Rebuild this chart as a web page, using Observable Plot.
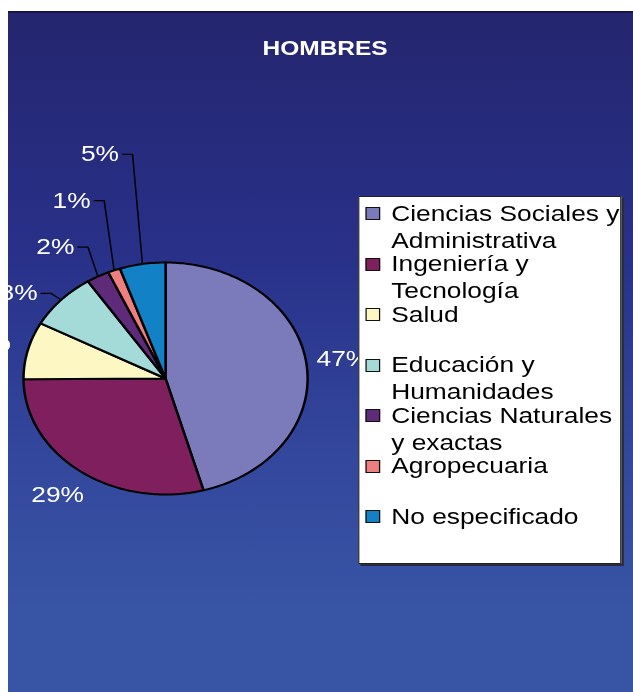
<!DOCTYPE html>
<html>
<head>
<meta charset="utf-8">
<script src="https://cdn.jsdelivr.net/npm/d3@7"></script>
<script src="https://cdn.jsdelivr.net/npm/@observablehq/plot@0.6"></script>
<style>
  html, body { margin: 0; padding: 0; background: #ffffff; }
  body { width: 633px; height: 692px; overflow: hidden; position: relative;
         font-family: "Liberation Sans", Arial, sans-serif; }
  #frame { position: absolute; left: 8px; top: 11px; width: 625px; height: 681px; overflow: hidden;
           background: linear-gradient(to bottom, #24256e 0%, #283088 35%, #33479c 65%, #3854a4 88%, #3854a4 100%); }
  #topline { position: absolute; left: 0; top: 0; width: 625px; height: 2px; background: #15154a; }
  #stage { position: absolute; left: 0; top: 0; width: 511px; height: 681px;
           transform: scaleX(1.2243); transform-origin: 0 0; }
  #title { position: absolute; left: 0; top: 27px; width: 518px; text-align: center; color: #fff;
           font-weight: bold; font-size: 20px; line-height: 20px; }
  #chart { position: absolute; left: 0; top: 0; }
  #legend { position: absolute; left: 286px; top: 185px; width: 215px; height: 368px; box-sizing: border-box;
            background: #fff; border: 1px solid #222; box-shadow: 2px 2px 0 #2a2a3a; }
  .item { position: absolute; left: 26px; font-size: 21.5px; line-height: 27px; color: #000; white-space: pre; }
  .sw { position: absolute; left: 5px; width: 10px; height: 11px; border: 1.5px solid #111; }
</style>
</head>
<body>
<div id="frame">
  <div id="stage">
    <div id="chart"></div>
    <div id="title"></div>
    <div id="legend"></div>
  </div>
  <div id="topline"></div>
</div>
<script>
// ---- data ----
const title = "HOMBRES";
const categories = [
  "Ciencias Sociales y Administrativa",
  "Ingeniería y Tecnología",
  "Salud",
  "Educación y Humanidades",
  "Ciencias Naturales y exactas",
  "Agropecuaria",
  "No especificado"
];
const shares = [45.7, 29.2, 8.0, 7.9, 2.6, 1.4, 5.2];
const valueLabels = ["47%", "29%", "8%", "8%", "2%", "1%", "5%"];
const legendLabels = [
  "Ciencias Sociales y\nAdministrativa",
  "Ingeniería y\nTecnología",
  "Salud",
  "Educación y\nHumanidades",
  "Ciencias Naturales\ny exactas",
  "Agropecuaria",
  "No especificado"
];
const colors = ["#7b7bbb", "#7f1f5e", "#fcf7c3", "#a4dbd9", "#5f2a7a", "#ef7f7f", "#1381c5"];

// ---- layout ----
const W = 511, H = 681;
const cx = 128.2, cy = 367, R = 116;
const labelRadius = 1.26;
const leaderFrom = 3;            // slices from this index get leader lines
const levelBase = 0.733, levelStep = 0.4, elbowOffset = 0.07;

// slice geometry from the shares
const total = d3.sum(shares);
let cum = 0;
const slices = shares.map((v, i) => {
  const a0 = cum / total * 2 * Math.PI;
  cum += v;
  const a1 = cum / total * 2 * Math.PI;
  return {i, cat: categories[i], a0, a1, mid: (a0 + a1) / 2, label: valueLabels[i]};
});

const piePts = [];
for (const s of slices) {
  piePts.push({cat: s.cat, x: 0, y: 0});
  const n = Math.max(2, Math.ceil((s.a1 - s.a0) / (Math.PI / 180)));
  for (let k = 0; k <= n; k++) {
    const t = s.a0 + (s.a1 - s.a0) * k / n;
    piePts.push({cat: s.cat, x: Math.sin(t), y: Math.cos(t)});
  }
}

const plainLabels = slices.filter(s => s.i < leaderFrom).map(s => ({
  label: s.label, x: labelRadius * Math.sin(s.mid), y: labelRadius * Math.cos(s.mid)
}));

const leaderPts = [];
const leaderLabels = [];
slices.filter(s => s.i >= leaderFrom).forEach((s, k) => {
  const ex = Math.sin(s.mid), ey = Math.cos(s.mid);
  const lev = levelBase + k * levelStep;
  leaderPts.push({cat: s.cat, x: ex, y: ey});
  leaderPts.push({cat: s.cat, x: ex - elbowOffset, y: lev});
  leaderPts.push({cat: s.cat, x: ex - 2 * elbowOffset, y: lev});
  leaderLabels.push({label: s.label, x: ex - 2 * elbowOffset, y: lev});
});

const font = "Liberation Sans, Arial, sans-serif";

const chart = Plot.plot({
  width: W, height: H,
  margin: 0,
  x: {domain: [-1, 1], range: [cx - R, cx + R], axis: null},
  y: {domain: [-1, 1], range: [cy + R, cy - R], axis: null},
  color: {domain: categories, range: colors},
  style: {background: "transparent", overflow: "visible"},
  marks: [
    Plot.line(piePts, {x: "x", y: "y", z: "cat", fill: "cat", stroke: "#000", strokeWidth: 2,
                       strokeLinejoin: "round", curve: "linear-closed"}),
    Plot.line(leaderPts, {x: "x", y: "y", z: "cat", stroke: "#000", strokeWidth: 1.2}),
    Plot.text(plainLabels, {x: "x", y: "y", text: "label", fill: "#fff", fontSize: 21.5, fontFamily: font}),
    Plot.text(leaderLabels, {x: "x", y: "y", text: "label", fill: "#fff", fontSize: 21.5, fontFamily: font,
                             textAnchor: "end", dx: -3})
  ]
});
document.getElementById("chart").appendChild(chart);

document.getElementById("title").textContent = title;

// legend
const legend = document.getElementById("legend");
const firstCenter = 17, itemStep = 50.5;
legendLabels.forEach((t, i) => {
  const c = firstCenter + i * itemStep;
  const sw = document.createElement("div");
  sw.className = "sw";
  sw.style.top = (c - 7) + "px";
  sw.style.background = colors[i];
  legend.appendChild(sw);
  const it = document.createElement("div");
  it.className = "item";
  it.style.top = (c - 13.5) + "px";
  it.textContent = t;
  legend.appendChild(it);
});
</script>
</body>
</html>
